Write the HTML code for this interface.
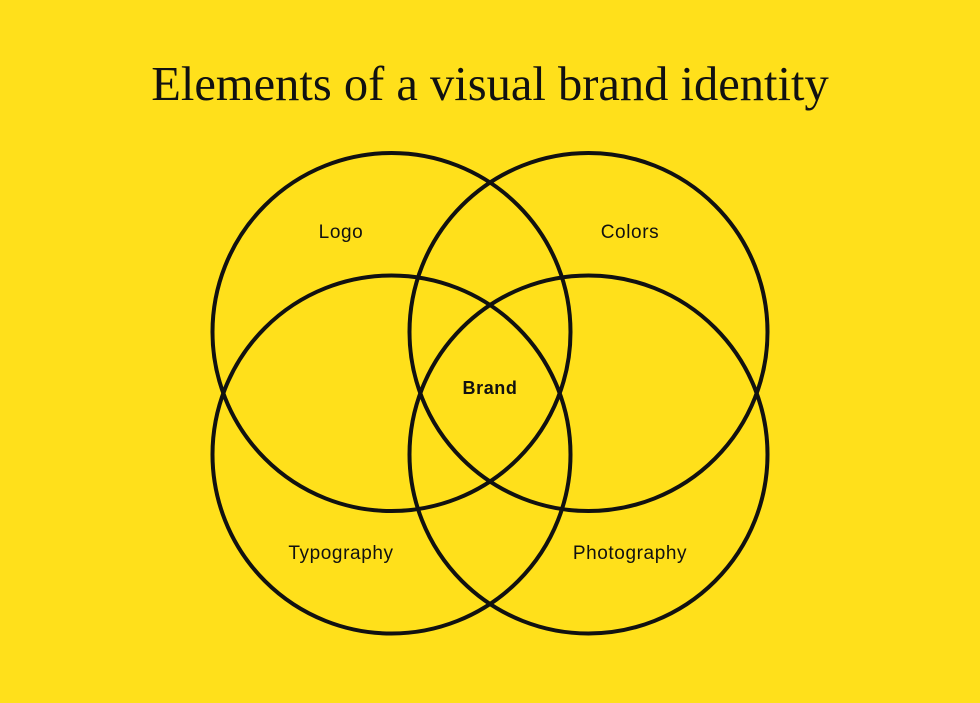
<!DOCTYPE html>
<html>
<head>
<meta charset="utf-8">
<style>
  html, body {
    margin: 0;
    padding: 0;
  }
  body {
    width: 980px;
    height: 703px;
    background: #FFE01B;
    overflow: hidden;
  }
  svg {
    display: block;
  }
</style>
</head>
<body>
<svg width="980" height="703" viewBox="0 0 980 703" xmlns="http://www.w3.org/2000/svg">
  <rect width="980" height="703" fill="#FFE01B"/>

  <!-- Title -->
  <text x="490" y="100" text-anchor="middle"
        font-family="Liberation Serif, serif" font-size="48.5" fill="#111">Elements of a visual brand identity</text>

  <!-- Circles -->
  <g fill="none" stroke="#111" stroke-width="4">
    <circle cx="391.5" cy="332" r="179"/>
    <circle cx="588.5" cy="332" r="179"/>
    <circle cx="391.5" cy="454.5" r="179"/>
    <circle cx="588.5" cy="454.5" r="179"/>
  </g>

  <!-- Labels -->
  <g font-family="Liberation Sans, sans-serif" font-size="19" fill="#111" text-anchor="middle" letter-spacing="0.6">
    <text x="341" y="238">Logo</text>
    <text x="630" y="238">Colors</text>
    <text x="490" y="394" font-weight="bold" font-size="18">Brand</text>
    <text x="341" y="559">Typography</text>
    <text x="630" y="559">Photography</text>
  </g>
</svg>
</body>
</html>
